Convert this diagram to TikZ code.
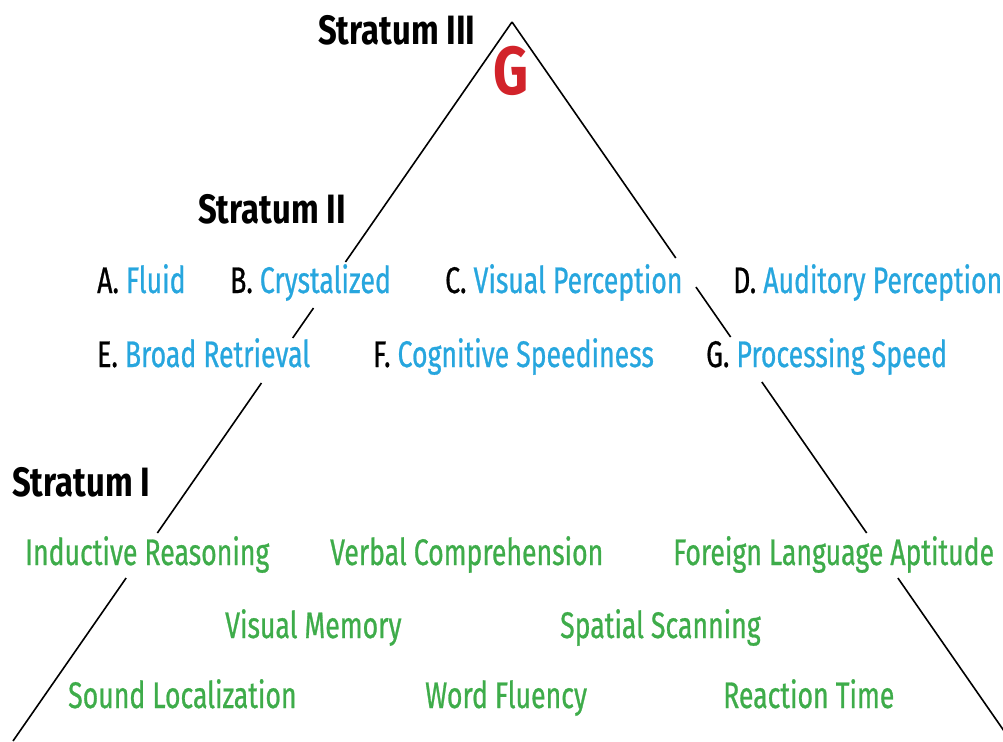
\documentclass[tikz,border=0pt]{standalone}
\usepackage{fontspec}
\setmainfont[FakeStretch=0.72,FakeBold=0.7]{Fira Sans}
\newfontfamily\stratfont[FakeStretch=0.8]{Fira Sans Bold}
\usetikzlibrary{calc}
\definecolor{capblue}{RGB}{39,166,222}
\definecolor{capgreen}{RGB}{62,172,74}
\definecolor{gred}{RGB}{210,35,42}
\tikzset{
  lbl/.style={inner sep=0pt, anchor=base west, font=\fontsize{37}{40}\selectfont},
  strat/.style={inner sep=0pt, anchor=base west, font=\stratfont\fontsize{41}{44}\selectfont},
  broad/.style={lbl, text=capblue},
  narrow/.style={lbl, text=capgreen},
  edge/.style={draw=black, line width=1.6pt}
}
\newcommand{\ltr}[1]{\textcolor{black}{#1}}
\begin{document}
\begin{tikzpicture}[x=1pt,y=-1pt]
\useasboundingbox (0,0) rectangle (1003,741);
% triangle corners
\coordinate (apex) at (512,22);
\coordinate (bl) at (13,741);
\coordinate (br) at (1011,741);
% labels
\node[strat] (s3) at (318,45) {Stratum III};
\node[inner sep=0pt, anchor=base west, font=\stratfont\fontsize{68}{70}\selectfont, text=gred] (g) at (493,95) {G};
\node[strat] (s2) at (198,223) {Stratum II};
\node[broad] (ba) at (97,293) {\ltr{A.} Fluid};
\node[broad] (bb) at (230,293) {\ltr{B.} Crystalized};
\node[broad] (bc) at (445,293) {\ltr{C.} Visual Perception};
\node[broad] (bd) at (733,293) {\ltr{D.} Auditory Perception};
\node[broad] (be) at (97,367) {\ltr{E.} Broad Retrieval};
\node[broad] (bf) at (373,367) {\ltr{F.} Cognitive Speediness};
\node[broad] (bg) at (706,367) {\ltr{G.} Processing Speed};
\node[strat] (s1) at (12,496) {Stratum I};
\node[narrow] (n1) at (25,565) {Inductive Reasoning};
\node[narrow] (n2) at (330,565) {Verbal Comprehension};
\node[narrow] (n3) at (673,565) {Foreign Language Aptitude};
\node[narrow] (n4) at (225,638) {Visual Memory};
\node[narrow] (n5) at (560,638) {Spatial Scanning};
\node[narrow] (n6) at (68,708) {Sound Localization};
\node[narrow] (n7) at (425,708) {Word Fluency};
\node[narrow] (n8) at (723,708) {Reaction Time};
% broken triangle edges
\begin{scope}
\clip (0,0) rectangle (1003,741);
\draw[edge] (apex) -- ($(apex)!0.3338!(bl)$);
\draw[edge] ($(apex)!0.3978!(bl)$) -- ($(apex)!0.4395!(bl)$);
\draw[edge] ($(apex)!0.5021!(bl)$) -- ($(apex)!0.7107!(bl)$);
\draw[edge] ($(apex)!0.7733!(bl)$) -- (bl);
\draw[edge] (apex) -- ($(apex)!0.3282!(br)$);
\draw[edge] ($(apex)!0.3686!(br)$) -- ($(apex)!0.4381!(br)$);
\draw[edge] ($(apex)!0.5007!(br)$) -- ($(apex)!0.7107!(br)$);
\draw[edge] ($(apex)!0.7733!(br)$) -- (br);
\end{scope}
\end{tikzpicture}
\end{document}
